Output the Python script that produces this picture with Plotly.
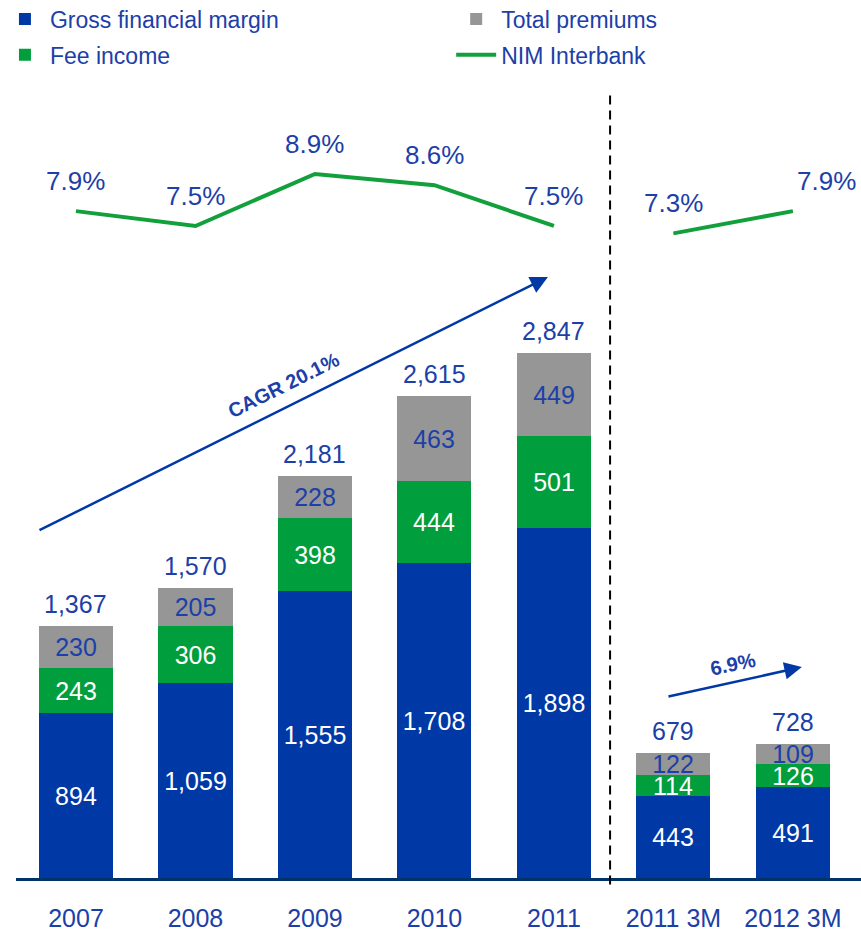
import plotly.graph_objects as go

# Periods and revenue components (millions)
categories = ["2007", "2008", "2009", "2010", "2011", "2011 3M", "2012 3M"]
gross_financial_margin = [894, 1059, 1555, 1708, 1898, 443, 491]
fee_income = [243, 306, 398, 444, 501, 114, 126]
total_premiums = [230, 205, 228, 463, 449, 122, 109]
totals = [1367, 1570, 2181, 2615, 2847, 679, 728]
nim_interbank = [7.9, 7.5, 8.9, 8.6, 7.5, 7.3, 7.9]

BLUE = "#0039A6"
GREEN = "#009E3D"
GRAY = "#969696"
TEXT_BLUE = "#1C40A8"
LINE_GREEN = "#12A03C"
FONT = "Liberation Sans, Arial, sans-serif"

xpos = list(range(len(categories)))
fmt = lambda v: f"{v:,}"

fig = go.Figure()

bar_common = dict(
    x=xpos, width=0.62, textposition="inside", insidetextanchor="middle",
    constraintext="none", marker_line_width=0, hoverinfo="skip",
)
fig.add_trace(go.Bar(
    name="Gross financial margin", y=gross_financial_margin,
    text=[fmt(v) for v in gross_financial_margin],
    marker_color=BLUE, textfont=dict(color="white", size=25, family=FONT),
    legend="legend", legendgroup="gfm", **bar_common))
fig.add_trace(go.Bar(
    name="Fee income", y=fee_income,
    text=[fmt(v) for v in fee_income],
    marker_color=GREEN, textfont=dict(color="white", size=25, family=FONT),
    legend="legend", legendgroup="fee", **bar_common))
fig.add_trace(go.Bar(
    name="Total premiums", y=total_premiums,
    text=[fmt(v) for v in total_premiums],
    marker_color=GRAY, textfont=dict(color=TEXT_BLUE, size=25, family=FONT),
    legend="legend2", legendgroup="prem", **bar_common))

# NIM line: full-year series and quarterly series are drawn as separate segments
for seg, show in ((slice(0, 5), True), (slice(5, 7), False)):
    fig.add_trace(go.Scatter(
        x=xpos[seg], y=nim_interbank[seg], yaxis="y2",
        mode="lines", name="NIM Interbank", showlegend=show,
        line=dict(color=LINE_GREEN, width=4), legend="legend2",
        legendgroup="nim", hoverinfo="skip"))

# NIM value labels above the line; the last one sits to the right of its point
for i, (x, v) in enumerate(zip(xpos, nim_interbank)):
    last = i == len(xpos) - 1
    fig.add_annotation(x=x, y=v, xref="x", yref="y2", text=f"{v:.1f}%",
                       showarrow=False, yanchor="bottom", yshift=13,
                       xanchor="left" if last else "center", xshift=2 if last else 0,
                       font=dict(color=TEXT_BLUE, size=26, family=FONT))

# Totals above each stack
for x, t in zip(xpos, totals):
    fig.add_annotation(x=x, y=t, text=fmt(t), showarrow=False, yanchor="bottom",
                       yshift=6, font=dict(color=TEXT_BLUE, size=25, family=FONT))

# Growth arrows
fig.add_annotation(x=3.95, y=3259, ax=-0.318, ay=1882, axref="x", ayref="y",
                   xref="x", yref="y", text="", showarrow=True, arrowhead=2,
                   arrowsize=1.4, arrowwidth=2.5, arrowcolor=BLUE)
fig.add_annotation(x=1.74, y=2672, text="<b>CAGR 20.1%</b>", showarrow=False,
                   textangle=-26.5, font=dict(color=TEXT_BLUE, size=20, family=FONT))
fig.add_annotation(x=6.075, y=1144, ax=4.946, ay=982, axref="x", ayref="y",
                   xref="x", yref="y", text="", showarrow=True, arrowhead=2,
                   arrowsize=1.4, arrowwidth=2.5, arrowcolor=BLUE)
fig.add_annotation(x=5.5, y=1160, text="<b>6.9%</b>", showarrow=False,
                   textangle=-12, font=dict(color=TEXT_BLUE, size=20, family=FONT))

# Separator between annual and quarterly figures
fig.add_shape(type="line", xref="x", yref="paper", x0=4.47, x1=4.47, y0=-0.008, y1=0.985,
              line=dict(color="black", width=2, dash="9px,6px"))

legend_common = dict(
    orientation="v", yanchor="top", xanchor="left", traceorder="grouped",
    tracegroupgap=3, itemwidth=40,
    font=dict(size=23, color=TEXT_BLUE, family=FONT), bgcolor="rgba(0,0,0,0)",
)

fig.update_layout(
    width=861, height=934, barmode="stack", bargap=0,
    paper_bgcolor="white", plot_bgcolor="white",
    margin=dict(l=16, r=0, t=79, b=56, autoexpand=False),
    font=dict(family=FONT, color=TEXT_BLUE),
    showlegend=True,
    legend=dict(x=-0.019, y=1.102, **legend_common),
    legend2=dict(x=0.515, y=1.102, **legend_common),
    xaxis=dict(range=[-0.502, 6.57], tickvals=xpos, ticktext=categories,
               showline=True, linecolor="#003366", linewidth=3, showgrid=False,
               zeroline=False, ticks="", ticklabelstandoff=16,
               tickfont=dict(size=25, color=TEXT_BLUE, family=FONT)),
    yaxis=dict(range=[0, 4333], visible=False, showgrid=False, zeroline=False),
    yaxis2=dict(range=[-10.07, 11.46], overlaying="y", visible=False,
                showgrid=False, zeroline=False),
)

fig.write_html("out.html")
